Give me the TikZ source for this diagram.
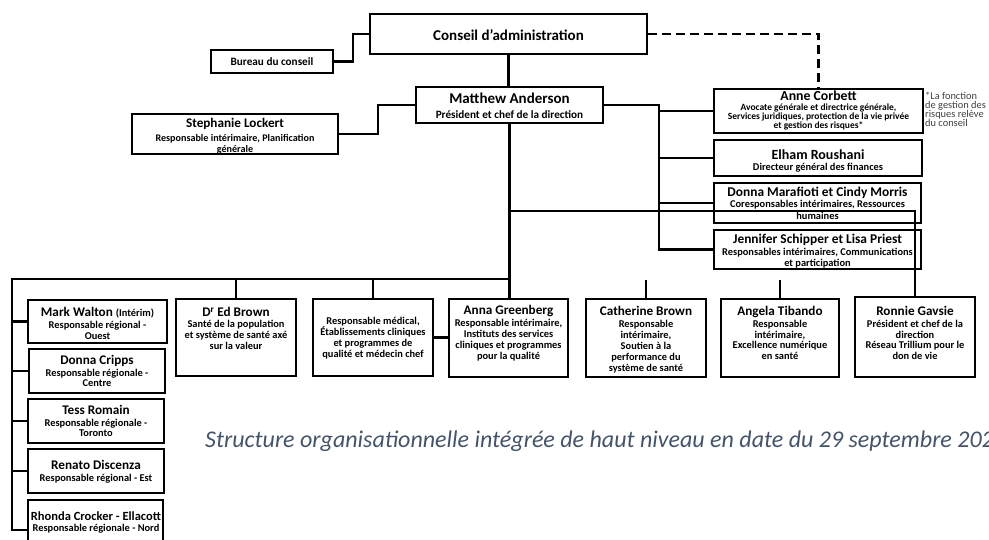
\documentclass[tikz,border=0pt]{standalone}
\usepackage{fontspec}
\setmainfont{Carlito}
\definecolor{capcol}{RGB}{68,84,106}
\definecolor{notecol}{RGB}{64,64,64}
\newcommand\fs[2]{\fontsize{#1}{#2}\selectfont}
\newcommand\nmb[2]{{\fs{#1}{#1}#2}}
\begin{document}
\begin{tikzpicture}[x=1pt,y=-1pt,
  box/.style={draw, line width=1.8pt, inner sep=0pt, rectangle},
  lbl/.style={align=center, inner sep=0pt, font=\bfseries\fs{10.4}{10.9}},
  conn/.style={line width=2.4pt},
  thinconn/.style={line width=1.7pt},
  dashconn/.style={line width=2.4pt, dash pattern=on 9pt off 5pt}]
\useasboundingbox (0,0) rectangle (989,540);
\clip (0,0) rectangle (989,540);
\newcommand\bx[5]{\node[box,minimum width=#4pt,minimum height=#5pt] (#1) at (#2,#3) {};}
% boxes
\bx{conseil}{508.5}{34}{277}{40}
\bx{bureau}{272}{61.5}{122}{23}
\bx{matthew}{509.5}{105}{187}{36}
\bx{stephanie}{235}{134}{206}{40}
\bx{anne}{818.5}{111}{209}{44}
\bx{elham}{818}{158}{208}{36}
\bx{donnam}{817.5}{203}{207}{40}
\bx{jennifer}{817.5}{249.5}{207}{39}
\bx{edbrown}{236}{337.5}{120}{77}
\bx{medical}{373}{337.5}{120}{77}
\bx{anna}{508.5}{338}{119}{78}
\bx{catherine}{646}{338}{120}{78}
\bx{angela}{780}{338}{118}{78}
\bx{ronnie}{915}{337}{120}{80}
\bx{mark}{97.5}{321.5}{139}{43}
\bx{donnac}{97}{371}{136}{44}
\bx{tess}{96}{421}{136}{44}
\bx{renato}{96}{471}{136}{44}
\bx{rhonda}{95.5}{530}{135}{60}
% texts
\node[lbl] (conseil-t) at (508.5,35) {\nmb{15}{Conseil d’administration}};
\node[lbl,font=\bfseries\fs{11.2}{12}] (bureau-t) at (272,62) {Bureau du conseil};
\node[lbl,font=\bfseries\fs{11.2}{11.2}] (matthew-t) at (509.5,106) {\nmb{15}{Matthew Anderson}\\[3.5pt]Président et chef de la direction};
\node[lbl,font=\bfseries\fs{10.1}{10.9}] (stephanie-t) at (235,136) {\nmb{13.2}{Stephanie Lockert}\\[3pt]Responsable intérimaire, Planification\\générale};
\node[lbl,font=\bfseries\fs{9.5}{8.7}] (anne-t) at (818.5,110.5) {\nmb{13.8}{Anne Corbett}\\[1.5pt]Avocate générale et directrice générale,\\Services juridiques, protection de la vie privée\\et gestion des risques*};
\node[lbl] (elham-t) at (818,161) {\nmb{14}{Elham Roushani}\\[0.5pt]Directeur général des finances};
\node[lbl,font=\bfseries\fs{10.4}{11.8}] (donnam-t) at (817.5,203.5) {\nmb{13.4}{Donna Marafioti et Cindy Morris}\\[-0.5pt]Coresponsables intérimaires, Ressources\\humaines};
\node[lbl,font=\bfseries\fs{10.4}{10.4}] (jennifer-t) at (817.5,251) {\nmb{13.4}{Jennifer Schipper et Lisa Priest}\\[2pt]Responsables intérimaires, Communications\\et participation};
\node[lbl] (edbrown-t) at (236,328.5) {\nmb{13.2}{D\textsuperscript{r} Ed Brown}\\Santé de la population\\et système de santé axé\\sur la valeur};
\node[lbl] (medical-t) at (373,338.5) {Responsable médical,\\Établissements cliniques\\et programmes de\\qualité et médecin chef};
\node[lbl] (anna-t) at (508.5,333) {\nmb{13.2}{Anna Greenberg}\\[1pt]Responsable intérimaire,\\Instituts des services\\cliniques et programmes\\pour la qualité};
\node[lbl] (catherine-t) at (646,339.5) {\nmb{13.2}{Catherine Brown}\\[1pt]Responsable\\intérimaire,\\Soutien à la\\performance du\\système de santé};
\node[lbl] (angela-t) at (780,333) {\nmb{13.2}{Angela Tibando}\\[1pt]Responsable\\intérimaire,\\Excellence numérique\\en santé};
\node[lbl] (ronnie-t) at (915,333) {\nmb{13.2}{Ronnie Gavsie}\\[1pt]Président et chef de la\\direction\\Réseau Trillium pour le\\don de vie};
\node[lbl] (mark-t) at (97.5,323.5) {\nmb{13.2}{Mark Walton {\fs{10.4}{10.4}(Intérim)}}\\[1pt]Responsable régional -\\Ouest};
\node[lbl] (donnac-t) at (97,371) {\nmb{13.2}{Donna Cripps}\\[1pt]Responsable régionale -\\Centre};
\node[lbl] (tess-t) at (96,421) {\nmb{13.2}{Tess Romain}\\[1pt]Responsable régionale -\\Toronto};
\node[lbl] (renato-t) at (96,472) {\nmb{13.2}{Renato Discenza}\\[1pt]Responsable régional - Est};
\node[lbl] (rhonda-t) at (96,522.5) {\nmb{12.5}{Rhonda Crocker - Ellacott}\\[0.5pt]Responsable régionale - Nord};
% footnote and caption
\node[anchor=north west, align=left, inner sep=0pt, font=\fs{10.4}{9.2}, text=notecol] (note) at (925,91.5) {*La fonction\\de gestion des\\risques relève\\du conseil};
\node[anchor=west, inner sep=0pt, font=\itshape\fs{24}{28}, text=capcol] (caption) at (205,441) {Structure organisationnelle intégrée de haut niveau en date du 29 septembre 202};
% connectors
\draw[conn] (bureau.east) -- ++(19,0) |- (conseil.west);
\draw[conn] (conseil.south) -- (conseil.south |- matthew.north);
\draw[dashconn] (conseil.east) -| (anne.north);
\draw[conn] (stephanie.east) -- ++(39,0) |- (matthew.west);
\coordinate (rs) at (659,105);
\draw[conn] (matthew.east) -- (rs) |- (jennifer.west);
\draw[conn] (rs |- anne.west) -- (anne.west);
\draw[conn] (rs |- elham.west) -- (elham.west);
\draw[conn] (rs |- donnam.west) -- (donnam.west);
\draw[conn] (matthew.south) -- (matthew.south |- anna.north);
\coordinate (bus) at (509.5,279);
\coordinate (lb) at (12,279);
\draw[conn] (bus) -- (lb) |- (rhonda.west);
\draw[conn] (lb |- mark.west) -- (mark.west);
\draw[conn] (lb |- donnac.west) -- (donnac.west);
\draw[conn] (lb |- tess.west) -- (tess.west);
\draw[conn] (lb |- renato.west) -- (renato.west);
\draw[conn] (edbrown.north) -- (edbrown.north |- bus);
\draw[conn] (medical.north) -- (medical.north |- bus);
\draw[conn] (medical.east) -- (medical.east -| anna.west);
\coordinate (cstub) at (646,280);
\coordinate (astub) at (780,280);
\draw[conn] (catherine.north) -- (cstub);
\draw[conn] (angela.north) -- (astub);
\coordinate (h211) at (509.5,211);
\draw[thinconn] (h211) -| (ronnie.north);
\end{tikzpicture}
\end{document}
